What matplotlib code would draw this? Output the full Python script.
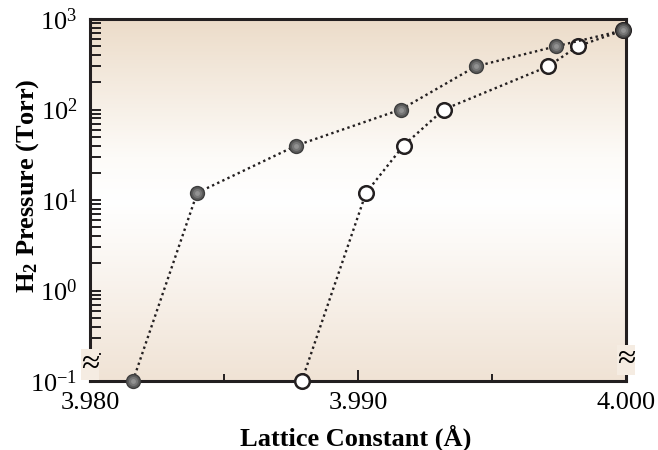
import numpy as np
import matplotlib.pyplot as plt
from matplotlib.colors import LinearSegmentedColormap
from matplotlib.ticker import FixedLocator, FuncFormatter, LogLocator, NullFormatter

plt.rcParams['font.family'] = ['Liberation Serif', 'DejaVu Serif']
plt.rcParams['mathtext.fontset'] = 'custom'
plt.rcParams['mathtext.rm'] = 'Liberation Serif'
plt.rcParams['mathtext.bf'] = 'Liberation Serif:bold'

# filled (grey) symbols
lat_filled = [3.9816, 3.9840, 3.9877, 3.9916, 3.9944, 3.9974, 3.9999]
p_filled = [0.1, 12, 40, 100, 300, 500, 750]
# open symbols
lat_open = [3.9879, 3.9903, 3.9917, 3.9932, 3.9971, 3.9982, 3.9999]
p_open = [0.1, 12, 40, 100, 300, 500, 750]

x_ticks = [3.980, 3.990, 4.000]
x_ticklabels = ['3.980', '3.990', '4.000']
x_minor = [3.985, 3.995]

W, H = 658, 450
fig = plt.figure(figsize=(W / 100, H / 100), dpi=100)
rect = [90 / W, 1 - 381 / H, (626 - 90) / W, (381 - 19) / H]

# gradient background in its own axes
bg = fig.add_axes(rect, zorder=0)
cmap = LinearSegmentedColormap.from_list(
    'bg', [(0, '#f0e3d5'), (0.38, '#fcf9f6'), (0.5, '#ffffff'),
           (0.62, '#fdfbf8'), (1, '#ecdcc9')])
bg.imshow(np.linspace(0, 1, 256).reshape(-1, 1), cmap=cmap, aspect='auto',
          origin='lower', extent=[0, 1, 0, 1])
bg.axis('off')

ax = fig.add_axes(rect, zorder=1)
ax.set_facecolor('none')

line_kw = dict(color='#231f20', lw=1.7, ls=(0, (1, 1.4)))
ax.plot(lat_open, p_open, marker='o', ms=10.5, mfc='white', mec='#231f20',
        mew=1.8, clip_on=False, zorder=3, **line_kw)
ax.plot(lat_filled, p_filled, clip_on=False, zorder=3, **line_kw)
# fake a shaded sphere with stacked markers
for ms, c in [(11, '#3e3e3e'), (9, '#5c5c5c'), (6.5, '#777777'), (3.5, '#929292')]:
    ax.plot(lat_filled, p_filled, ls='none', marker='o', ms=ms, mfc=c,
            mec='none', clip_on=False, zorder=4)

ax.set_yscale('log')
ax.set_ylim(0.1, 1000)
ax.set_xlim(3.980, 4.000)

ax.yaxis.set_major_locator(LogLocator(base=10, numticks=10))
ax.yaxis.set_minor_locator(LogLocator(base=10, subs=np.arange(2, 10), numticks=20))
ax.yaxis.set_minor_formatter(NullFormatter())
ax.yaxis.set_major_formatter(FuncFormatter(
    lambda v, pos: r'$\mathregular{10^{%d}}$' % round(np.log10(v))))

ax.xaxis.set_major_locator(FixedLocator(x_ticks))
ax.set_xticklabels(x_ticklabels)
ax.xaxis.set_minor_locator(FixedLocator(x_minor))

ax.tick_params(axis='y', which='both', direction='in', length=8, width=1.4,
               left=True, right=False, labelsize=19, pad=9, color='#231f20')
ax.tick_params(axis='x', which='major', direction='in', length=8, width=1.4,
               top=False, labelsize=19, pad=8, color='#231f20')
ax.tick_params(axis='x', which='minor', direction='in', length=5, width=1.4,
               top=False, color='#231f20')

for s in ax.spines.values():
    s.set_linewidth(2.2)
    s.set_color('#231f20')

# axis break marks
ax.text(0.0, 0.045, '\u2248', transform=ax.transAxes, ha='center', va='center',
        fontsize=24, zorder=5,
        bbox=dict(facecolor='#f5ece2', edgecolor='none', pad=0.1))
ax.text(1.0, 0.058, '\u2248', transform=ax.transAxes, ha='center', va='center',
        fontsize=24, zorder=5,
        bbox=dict(facecolor='#f5ece2', edgecolor='none', pad=0.1))

fig.text(356 / W, 1 - 438 / H, 'Lattice Constant (\u00c5)', ha='center',
         va='center', fontsize=19, fontweight='bold')
fig.text(28 / W, 1 - 186 / H, r'$\mathbf{H_2}$ Pressure (Torr)', ha='center',
         va='center', rotation=90, fontsize=19, fontweight='bold')

fig.savefig('out.png', dpi=100)
